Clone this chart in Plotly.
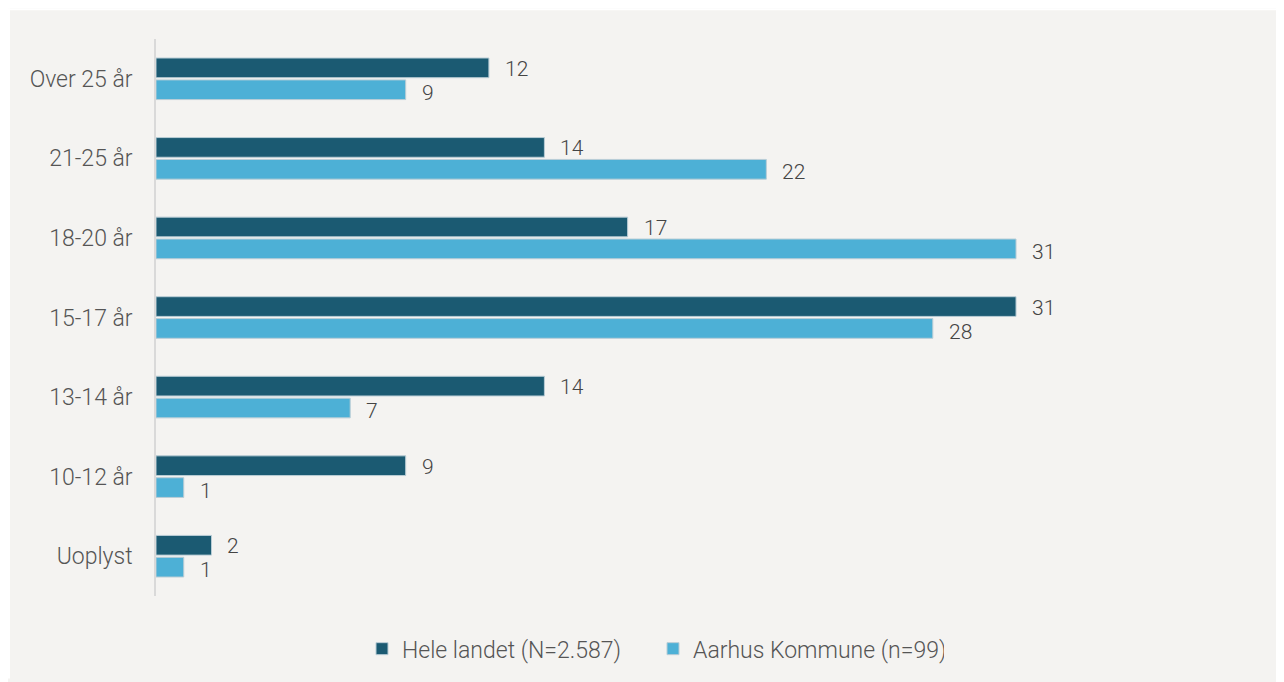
import plotly.graph_objects as go

categories = ["Over 25 år", "21-25 år", "18-20 år", "15-17 år", "13-14 år", "10-12 år", "Uoplyst"]
hele_landet = [12, 14, 17, 31, 14, 9, 2]
aarhus = [9, 22, 31, 28, 7, 1, 1]
series_names = ["Hele landet (N=2.587)", "Aarhus Kommune (n=99)"]
colors = ["#1b5a72", "#4db0d6"]

# page has 8px body margin; figure coordinates = page coordinates - 8
OFF = 8
W, H = 1284 - OFF, 682 - OFF
L, R_PX, T, B_PX = 156 - OFF, 1127 - OFF, 39 - OFF, 599 - OFF
xmax = 35

FONT = "Roboto"
fig = go.Figure()
for name, vals, col in zip(series_names, [hele_landet, aarhus], colors):
    fig.add_trace(go.Bar(
        y=categories, x=vals, name=name, orientation="h",
        marker=dict(color=col, line=dict(color="#b9cdd6", width=1)),
        hoverinfo="x+y",
    ))

# value labels
for ti, vals in enumerate([hele_landet, aarhus]):
    for c, v in zip(categories, vals):
        fig.add_annotation(
            x=v, y=c, text=str(v), showarrow=False, xanchor="left",
            xshift=14, yshift=(12 if ti == 0 else -12) - 2,
            font=dict(family=FONT, size=21, color="#444444", weight=300),
        )

def px_to_paper_x(px):
    return (px - L) / (R_PX - L)

def px_to_paper_y(py):
    return (B_PX - py) / (B_PX - T)

# white strip at top and left (outside the grey panel)
fig.add_shape(type="rect", xref="paper", yref="paper",
              x0=px_to_paper_x(0), x1=px_to_paper_x(W), y0=px_to_paper_y(2), y1=px_to_paper_y(0),
              fillcolor="white", line=dict(width=0), layer="below")
fig.add_shape(type="rect", xref="paper", yref="paper",
              x0=px_to_paper_x(0), x1=px_to_paper_x(2), y0=px_to_paper_y(H), y1=px_to_paper_y(0),
              fillcolor="white", line=dict(width=0), layer="below")

fig.update_layout(
    width=W, height=H,
    margin=dict(l=L, r=W - R_PX, t=T, b=H - B_PX, pad=0),
    paper_bgcolor="#f4f3f1", plot_bgcolor="#f4f3f1",
    barmode="group", bargap=0.45, bargroupgap=0.1,
    font=dict(family=FONT, size=21, color="#555555", weight=300),
    xaxis=dict(range=[0, xmax], visible=False, showgrid=False, zeroline=False),
    yaxis=dict(autorange="reversed", showline=True, linecolor="#d9d9d9", linewidth=2,
               ticks="", ticksuffix="   ", showgrid=False,
               tickfont=dict(family=FONT, size=23, color="#555555", weight=300)),
    legend=dict(orientation="h", x=px_to_paper_x(362 - OFF), xanchor="left",
                y=px_to_paper_y(652 - OFF), yanchor="middle",
                font=dict(family=FONT, size=23, color="#555555", weight=300),
                bgcolor="rgba(0,0,0,0)", itemwidth=30, traceorder="normal",
                entrywidth=246, entrywidthmode="pixels"),
    showlegend=True,
)

fig.write_html("out.html")
